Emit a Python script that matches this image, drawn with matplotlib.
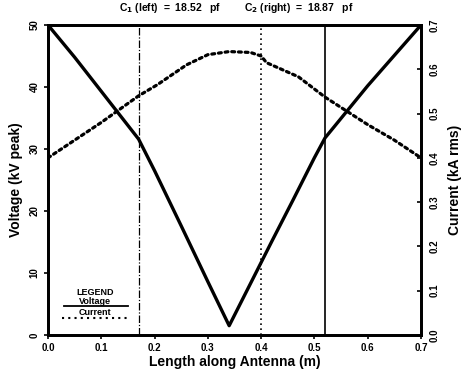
import matplotlib
matplotlib.use("Agg")
import matplotlib.pyplot as plt
import numpy as np

plt.rcParams['font.family'] = ['Liberation Sans', 'DejaVu Sans']
plt.rcParams['font.weight'] = 'bold'

# Voltage (kV peak) along antenna
v_x = [0.0, 0.05, 0.10, 0.17, 0.20, 0.25, 0.30, 0.34, 0.38, 0.42, 0.46, 0.50, 0.52, 0.60, 0.70]
v_y = [50.0, 44.8, 39.3, 31.6, 26.5, 17.6, 8.6, 1.5, 8.3, 15.1, 21.8, 28.6, 31.8, 40.2, 50.0]

# Current (kA rms) along antenna
i_x = [0.0, 0.05, 0.10, 0.17, 0.205, 0.26, 0.30, 0.34, 0.38, 0.40, 0.41, 0.47, 0.52, 0.60, 0.65, 0.70]
i_y = [0.40, 0.44, 0.48, 0.54, 0.565, 0.61, 0.633, 0.640, 0.638, 0.630, 0.615, 0.583, 0.537, 0.475, 0.44, 0.40]

# Capacitor / feed positions (m)
c_left = 0.17
feed = 0.40
c_right = 0.52

title_left = "C$_1$ (left)  =  18.52   pf"
title_right = "C$_2$ (right)  =  18.87   pf"

x_ticks = [0.0, 0.1, 0.2, 0.3, 0.4, 0.5, 0.6, 0.7]
v_ticks = [0, 10, 20, 30, 40, 50]
i_ticks = [0.0, 0.1, 0.2, 0.3, 0.4, 0.5, 0.6, 0.7]

fig = plt.figure(figsize=(4.66, 3.75), dpi=100)
ax = fig.add_axes([48/466, 1-335/375, (421-48)/466, (335-25)/375])
ax2 = ax.twinx()

ax.plot(v_x, v_y, color='black', lw=2.4, solid_joinstyle='round')
ax2.plot(i_x, i_y, color='black', lw=2.3, linestyle=(0, (0.9, 1.2)), dash_capstyle='round')

ax.axvline(c_left, color='black', lw=0.9, linestyle=(0, (6, 1.5, 1, 1.5)))
ax.axvline(feed, color='black', lw=1.2, linestyle=(0, (1, 2)))
ax.axvline(c_right, color='black', lw=1.2)

ax.set_xlim(0, 0.7)
ax.set_ylim(0, 50)
ax2.set_ylim(0, 0.7)

ax.set_xticks(x_ticks)
ax.set_xticklabels([f"{t:.1f}" for t in x_ticks], fontsize=7, fontweight='bold')
ax.set_yticks(v_ticks)
ax.set_yticklabels([str(t) for t in v_ticks], fontsize=7, fontweight='bold', rotation=90, va='center')
ax2.set_yticks(i_ticks)
ax2.set_yticklabels([f"{t:.1f}" for t in i_ticks], fontsize=7, fontweight='bold', rotation=90, va='center')

ax.tick_params(axis='both', direction='out', length=3, width=1.2, pad=3)
ax2.tick_params(axis='y', direction='in', length=3, width=1.2, pad=6)

for a in (ax, ax2):
    for s in a.spines.values():
        s.set_linewidth(2.0)

ax.set_xlabel("Length along Antenna (m)", fontsize=10, fontweight='bold', labelpad=1)
ax.set_ylabel("Voltage (kV peak)", fontsize=10, fontweight='bold', labelpad=5)
ax2.set_ylabel("Current (kA rms)", fontsize=10, fontweight='bold', rotation=90, labelpad=6)

fig.text(170/466, 1-8/375, title_left, fontsize=7.5, fontweight='bold', ha='center', va='center')
fig.text(299/466, 1-8/375, title_right, fontsize=7.5, fontweight='bold', ha='center', va='center')

# Hand-drawn style legend
ax.text(0.088, 6.9, "LEGEND", fontsize=6.5, fontweight='bold', ha='center', va='center')
ax.text(0.088, 5.4, "Voltage", fontsize=6.5, fontweight='bold', ha='center', va='center')
ax.plot([0.030, 0.150], [4.6, 4.6], color='black', lw=1.3)
ax.text(0.088, 3.7, "Current", fontsize=6.5, fontweight='bold', ha='center', va='center')
ax.plot([0.026, 0.150], [2.7, 2.7], color='black', lw=1.5, linestyle=(0, (1, 2)))

fig.savefig("out.png", dpi=100)
